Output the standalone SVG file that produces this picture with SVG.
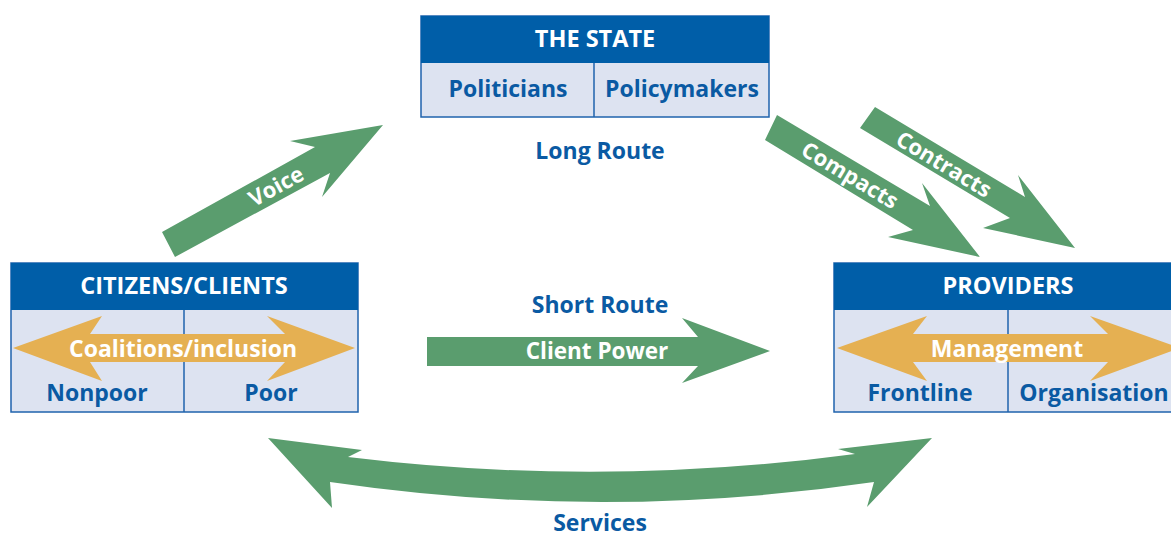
<svg xmlns="http://www.w3.org/2000/svg" width="1171" height="536" viewBox="0 0 1171 536">
<style>
.hdr{fill:#005ea8}
.cell{fill:#dde3f1;stroke:#1f63ad;stroke-width:1.5}
.div{stroke:#1f63ad;stroke-width:1.5}
.green{fill:#5a9d6e}
.orange{fill:#e5b052}
text{font-family:"Open Sans","Noto Sans","DejaVu Sans",sans-serif;font-weight:700;text-anchor:middle}
.ht{fill:#ffffff;font-size:23.5px}
.bt{fill:#0a5aa3;font-size:23px}
.wt{fill:#ffffff;font-size:22.5px}
.it{fill:#ffffff;font-size:23px}
.ct{fill:#ffffff;font-size:22px}
</style>
<rect width="1171" height="536" fill="#ffffff"/>
<g id="connectors">
  <g id="voice">
    <polygon class="green" points="162,232 315,147 290,141 383,125 322,197 330,173 175,257"/>
    <text class="ct" transform="translate(276,186) rotate(-29)" y="8">Voice</text>
  </g>
  <g id="compacts">
    <polygon class="green" points="777,115 930,206 922,183 980,257 888,237 913,230 765,140"/>
    <text class="ct" transform="translate(850,175) rotate(31)" y="8">Compacts</text>
  </g>
  <g id="contracts">
    <polygon class="green" points="875,107 1025,197 1018,175 1075,248 983,228 1010,218 860,128"/>
    <text class="ct" transform="translate(944,164) rotate(31)" y="8">Contracts</text>
  </g>
  <g id="client-power">
    <polygon class="green" points="427,337 698,337 682,318 770,351 682,383 698,366 427,366"/>
    <text class="wt" x="597" y="359">Client Power</text>
  </g>
  <g id="services">
    <path class="green" d="M268,438 L362,450 L348,457 Q601,488 855,454 L838,449 L932,438 L867,507 L874,482 Q602,522 330,482 L332,508 Z"/>
  </g>
  <text class="bt" x="600" y="159">Long Route</text>
  <text class="bt" x="600" y="313">Short Route</text>
  <text class="bt" x="600" y="531">Services</text>
</g>
<g id="the-state">
  <rect class="cell" x="421" y="16" width="348" height="101"/>
  <rect class="hdr" x="421" y="16" width="348" height="47"/>
  <line class="div" x1="594" y1="63" x2="594" y2="117"/>
  <text class="ht" x="595" y="47">THE STATE</text>
  <text class="bt" x="508" y="97">Politicians</text>
  <text class="bt" x="682" y="97">Policymakers</text>
</g>
<g id="citizens-clients">
  <rect class="cell" x="11" y="263" width="347" height="149"/>
  <rect class="hdr" x="11" y="263" width="347" height="47"/>
  <line class="div" x1="184" y1="310" x2="184" y2="412"/>
  <text class="ht" x="184" y="294">CITIZENS/CLIENTS</text>
  <polygon class="orange" points="13,348 102,316 90,334 285,334 267,316 355,348 267,381 285,362 90,362 102,381"/>
  <text class="it" x="183" y="357">Coalitions/inclusion</text>
  <text class="bt" x="97" y="401">Nonpoor</text>
  <text class="bt" x="271" y="401">Poor</text>
</g>
<g id="providers">
  <rect class="cell" x="834" y="263" width="348" height="149"/>
  <rect class="hdr" x="834" y="263" width="348" height="47"/>
  <line class="div" x1="1008" y1="310" x2="1008" y2="412"/>
  <text class="ht" x="1008" y="294">PROVIDERS</text>
  <polygon class="orange" points="837,348 927,316 913,334 1108,334 1090,316 1180,348 1090,381 1108,362 913,362 927,381"/>
  <text class="it" x="1007" y="357">Management</text>
  <text class="bt" x="920" y="401">Frontline</text>
  <text class="bt" x="1094" y="401">Organisation</text>
</g>
</svg>
